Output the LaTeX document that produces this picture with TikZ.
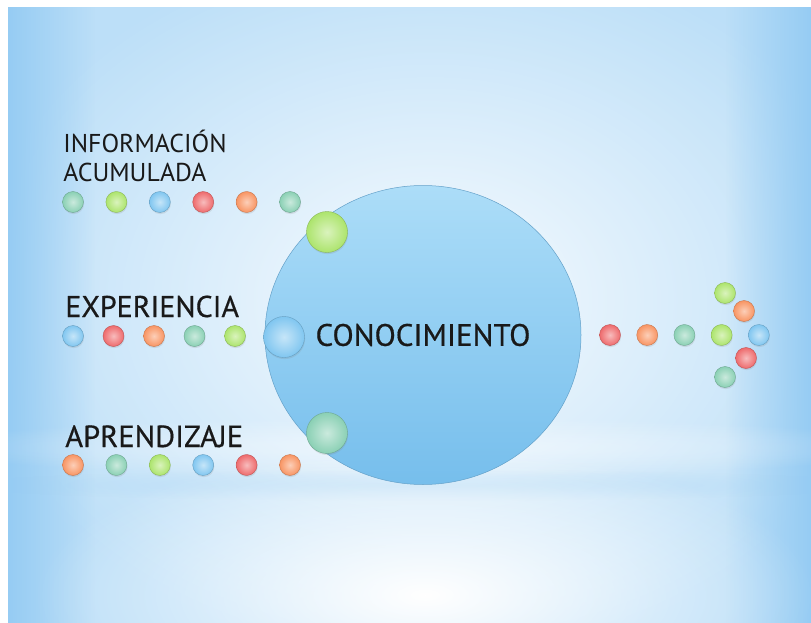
\documentclass[tikz,border=0pt]{standalone}
\usepackage{fontspec}
\setmainfont{PT Sans}
\newfontfamily\medfont[FakeBold=0.5]{PT Sans}
\usetikzlibrary{shapes.geometric,shadows,fadings}
\definecolor{bgblue}{RGB}{188,223,248}
\definecolor{bgdeep}{RGB}{150,204,243}
\definecolor{cteal}{RGB}{138,208,180}
\definecolor{cgreen}{RGB}{172,228,108}
\definecolor{cblue}{RGB}{128,198,240}
\definecolor{cred}{RGB}{238,106,108}
\definecolor{corange}{RGB}{248,148,98}
\definecolor{circtop}{RGB}{172,221,248}
\definecolor{circbot}{RGB}{118,190,236}
\tikzfading[name=glow, inner color=transparent!0, outer color=transparent!100]
\tikzset{
every picture/.style={
line width=0.6pt
}}

\begin{document}
\begin{tikzpicture}[x=1pt, y=-1pt,
dot/.style = {circle, minimum size=21pt, inner sep=0pt, draw=#1!80!black, line width=0.4pt,
  inner color=#1!45!white, outer color=#1,
  drop shadow={opacity=0.18, shadow xshift=0.6pt, shadow yshift=-1.6pt}},
bigdot/.style = {dot=#1, minimum size=41pt},
rowtext/.style = {inner sep=0pt, text=black!90, anchor=base west}]
\useasboundingbox (0,0) rectangle (811,623);
% background
\begin{scope}
\clip (8,7) rectangle (811,623);
\fill[bgblue] (8,7) rectangle (811,623);
\fill[white, path fading=glow, opacity=0.9] (430,300) ellipse [x radius=470, y radius=360];
\fill[bgdeep, path fading=east] (8,7) rectangle (95,623);
\fill[bgdeep, path fading=west] (725,7) rectangle (811,623);
\fill[bgdeep, path fading=glow, opacity=0.3] (420,485) ellipse [x radius=470, y radius=16];
\fill[white, path fading=glow, opacity=0.5] (420,447) ellipse [x radius=500, y radius=30];
\fill[white, path fading=glow] (425,595) ellipse [x radius=390, y radius=150];
\end{scope}
\fill[white] (0,0) rectangle (811,7);
\fill[white] (0,0) rectangle (8,623);
% main circle
\node[ellipse, minimum width=316pt, minimum height=299pt, inner sep=0pt,
  top color=circtop, bottom color=circbot, draw=circbot!85!black, line width=0.5pt,
  font=\medfont\fontsize{31}{32}\selectfont, text=black!90] (know) at (423,335) {CONOCIMIENTO};
% labels
\node[rowtext, anchor=south west, align=left, text depth=0pt,
  font=\fontsize{25.8}{29}\selectfont] (infolab) at (63,182) {INFORMACIÓN\\ACUMULADA};
\node[rowtext, font=\medfont\fontsize{30}{31}\selectfont] (explab) at (65,317) {EXPERIENCIA};
\node[rowtext, font=\medfont\fontsize{30.5}{31}\selectfont] (aprlab) at (65,447) {APRENDIZAJE};
% rows of dots
\foreach \c [count=\i] in {cteal,cgreen,cblue,cred,corange,cteal}
  \node[dot=\c] (inf\i) at ({73+43.4*(\i-1)},202) {};
\foreach \c [count=\i] in {cblue,cred,corange,cteal,cgreen}
  \node[dot=\c] (exp\i) at ({73+40.5*(\i-1)},336) {};
\foreach \c [count=\i] in {corange,cteal,cgreen,cblue,cred,corange}
  \node[dot=\c] (apr\i) at ({73+43.4*(\i-1)},465) {};
\node[bigdot=cgreen] (infbig) at (327,232) {};
\node[bigdot=cblue] (expbig) at (284,337) {};
\node[bigdot=cteal] (aprbig) at (327,433) {};
% arrow of dots
\foreach \c [count=\i] in {cred,corange,cteal,cgreen,cblue}
  \node[dot=\c] (out\i) at ({610+37.2*(\i-1)},335) {};
\node[dot=cgreen] (up1) at (725,293) {};
\node[dot=corange] (up2) at (744,311) {};
\node[dot=cred] (dn1) at (746,358) {};
\node[dot=cteal] (dn2) at (725,377) {};
\end{tikzpicture}
\end{document}
